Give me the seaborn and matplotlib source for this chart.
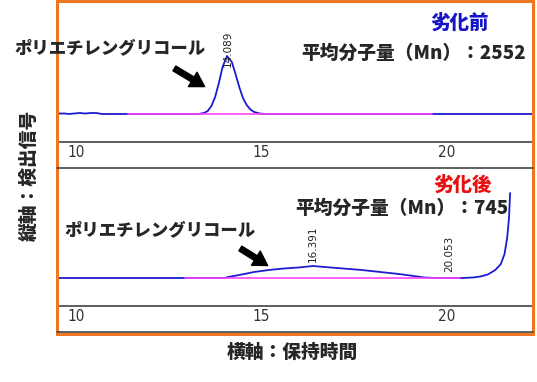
import numpy as np
import matplotlib.pyplot as plt
import pandas as pd
import seaborn as sns
from matplotlib.lines import Line2D
from matplotlib.patches import Rectangle, FancyArrowPatch
from matplotlib.ticker import MultipleLocator

sns.set_style('white')
plt.rcParams['font.family'] = ['Noto Sans CJK JP', 'DejaVu Sans']

# before degradation: retention time (min) vs detector signal
top_time = [9.52, 9.7, 9.8, 9.95, 10.1, 10.25, 10.4, 10.55, 10.7, 10.9, 11.4,
            12.6, 13.3, 13.45, 13.55, 13.65, 13.75, 13.85, 13.95, 14.07, 14.2,
            14.3, 14.4, 14.5, 14.6, 14.7, 14.8, 14.95, 15.1, 22.29]
top_signal = [0.5, 0.5, 0, 0.5, 1, 0.5, 1, 1, 0, 0, 0,
              0, 0, 1, 3, 8, 17, 31, 47, 58, 52, 40,
              27, 16, 9, 4.5, 2, 0.5, 0, 0]
top_base = [11.4, 19.6]
top_peaks = ['14.089']

# after degradation
bot_time = [9.52, 12.9, 14.0, 14.1, 14.4, 14.8, 15.2, 15.6, 16.0, 16.39, 16.7,
            17.2, 17.7, 18.2, 18.7, 19.1, 19.4, 19.7, 20.4, 20.7, 20.9, 21.1,
            21.3, 21.45, 21.55, 21.62, 21.67, 21.7]
bot_signal = [0, 0, 0, 1, 3, 6, 8, 9.5, 10.5, 12, 11,
              9.5, 8, 6, 4, 2, 0.5, 0, 0, 0.5, 1.5, 3.5,
              8, 14, 24, 40, 60, 85]
bot_base = [12.94, 20.35]
bot_peaks = ['16.391', '20.053']

x_ticks = [10, 15, 20]

W, H = 537, 382
fig = plt.figure(figsize=(W / 100, H / 100), dpi=100)


def fx(x):
    return x / W


def fy(y):
    return 1 - y / H


ax1 = fig.add_axes([fx(58), fy(142), fx(532) - fx(58), fy(1) - fy(142)])
ax2 = fig.add_axes([fx(58), fy(306), fx(532) - fx(58), fy(169) - fy(306)])

blue = '#1c1cd0'
pink = '#ff44ff'

for ax, t, s, base, ylim in [(ax1, top_time, top_signal, top_base, (-28, 113)),
                             (ax2, bot_time, bot_signal, bot_base, (-28, 109))]:
    sns.lineplot(x=t, y=s, ax=ax, color=blue, lw=1.3, sort=False, estimator=None)
    sns.lineplot(x=base, y=[0, 0], ax=ax, color=pink, lw=1.2, zorder=3)
    ax.set_xlim(9.515, 22.29)
    ax.set_ylim(*ylim)
    for sp in ['top', 'left', 'right']:
        ax.spines[sp].set_visible(False)
    ax.spines['bottom'].set_color('#333333')
    ax.spines['bottom'].set_linewidth(1.1)
    ax.set_xticks(x_ticks)
    ax.xaxis.set_minor_locator(MultipleLocator(1))
    ax.tick_params(axis='x', which='major', direction='in', length=5, width=1,
                   pad=2, labelsize=11, color='#333333', labelcolor='#333333')
    ax.tick_params(axis='x', which='minor', direction='in', length=3, width=1,
                   color='#333333')
    for lbl in ax.get_xticklabels():
        lbl.set_fontfamily('DejaVu Sans')
        lbl.set_fontstretch('condensed')
    ax.set_yticks([])
    ax.set_xlabel('')
    ax.set_ylabel('')
    ax.patch.set_alpha(0)

for p in top_peaks:
    ax1.text(float(p), 47, p, rotation=90, ha='center', va='bottom',
             fontsize=7.5, family='DejaVu Sans', color='#222222')
for p, y0 in zip(bot_peaks, [16, 6]):
    ax2.text(float(p), y0, p, rotation=90, ha='center', va='bottom',
             fontsize=7.5, family='DejaVu Sans', color='#222222')

# frames
for y in [168, 332]:
    fig.add_artist(Line2D([fx(57), fx(533)], [fy(y), fy(y)], color='#444444',
                          lw=1.2, transform=fig.transFigure))
fig.add_artist(Rectangle((fx(57), fy(334)), fx(533) - fx(57), fy(1) - fy(334),
                         fill=False, ec='#ef7623', lw=2.2,
                         transform=fig.transFigure))

# labels
heavy = 900
fig.text(fx(110), fy(48), 'ポリエチレングリコール', ha='center', va='center',
         fontsize=12.5, fontweight=heavy)
fig.text(fx(160), fy(230), 'ポリエチレングリコール', ha='center', va='center',
         fontsize=12.5, fontweight=heavy)
fig.text(fx(460), fy(23), '劣化前', ha='center', va='center', fontsize=14,
         fontweight=heavy, color='#1414c8')
fig.text(fx(463), fy(185), '劣化後', ha='center', va='center', fontsize=14,
         fontweight=heavy, color='#e81010')
fig.text(fx(414), fy(53), '平均分子量（Mn）：2552', ha='center', va='center',
         fontsize=13.5, fontweight=heavy)
fig.text(fx(402), fy(208), '平均分子量（Mn）：745', ha='center', va='center',
         fontsize=13.5, fontweight=heavy)
fig.text(fx(29), fy(175), '縦軸：検出信号', ha='center', va='center',
         rotation=90, fontsize=13.5, fontweight=heavy)
fig.text(fx(292), fy(352), '横軸：保持時間', ha='center', va='center',
         fontsize=13.5, fontweight=heavy)

for a, b in [((172, 67), (207, 88)), ((238, 247), (270, 267))]:
    fig.add_artist(FancyArrowPatch((fx(a[0]), fy(a[1])), (fx(b[0]), fy(b[1])),
                                   transform=fig.transFigure,
                                   arrowstyle='simple,head_width=1.2,head_length=1.0,tail_width=0.4',
                                   mutation_scale=10, color='black'))

fig.savefig('out.png', dpi=100)
